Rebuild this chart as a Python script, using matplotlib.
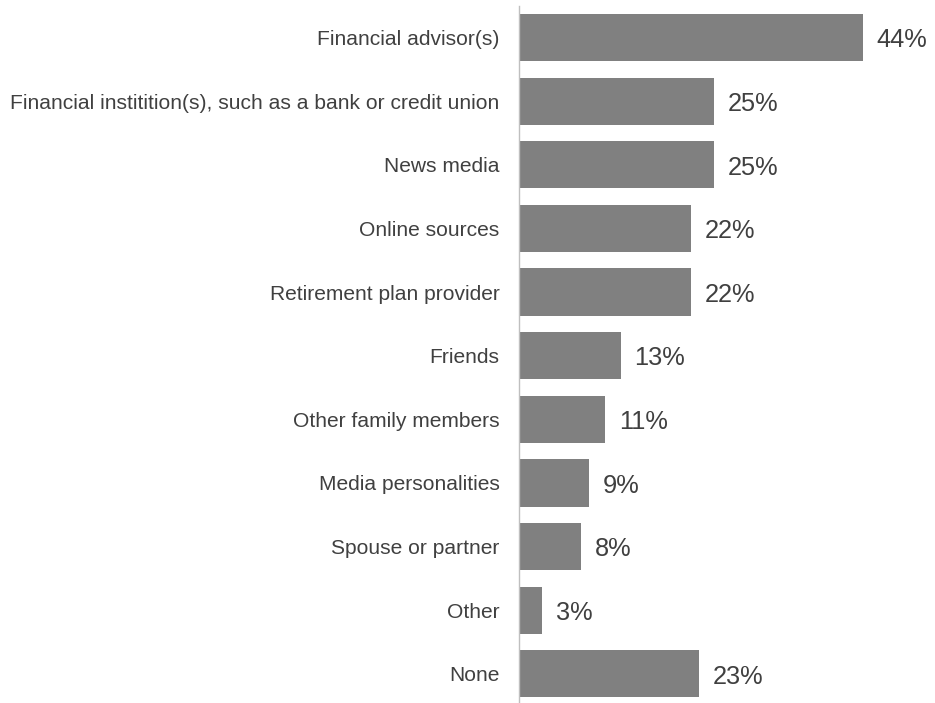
import matplotlib
matplotlib.use("Agg")
import matplotlib.pyplot as plt

plt.rcParams['font.family'] = ['Liberation Sans', 'DejaVu Sans']

categories = ["Financial advisor(s)",
              "Financial institition(s), such as a bank or credit union",
              "News media",
              "Online sources",
              "Retirement plan provider",
              "Friends",
              "Other family members",
              "Media personalities",
              "Spouse or partner",
              "Other",
              "None"]
values = [44, 25, 25, 22, 22, 13, 11, 9, 8, 3, 23]
value_labels = ["44%", "25%", "25%", "22%", "22%", "13%", "11%", "9%", "8%", "3%", "23%"]

fig = plt.figure(figsize=(9.35, 7.03), dpi=100)
ax = fig.add_axes([0.555, 0.0006, 0.418, 0.9914])

pos = list(range(len(categories)))
ax.barh(pos, values, height=0.74, color='#808080')

for p, v, lab in zip(pos, values, value_labels):
    ax.annotate(lab, xy=(v, p), xytext=(10, -2), textcoords='offset points',
                ha='left', va='center', fontsize=18.3, color='#404040')

ax.set_xlim(0, 50)
ax.set_ylim(10.45, -0.5)
ax.set_yticks(pos)
ax.set_yticklabels(categories, fontsize=15.1, color='#404040')
ax.tick_params(axis='y', length=0, pad=14)
ax.set_xticks([])
for s in ['top', 'right', 'bottom']:
    ax.spines[s].set_visible(False)
ax.spines['left'].set_color('#bfbfbf')
ax.spines['left'].set_linewidth(1)

fig.savefig('out.png', dpi=100)
